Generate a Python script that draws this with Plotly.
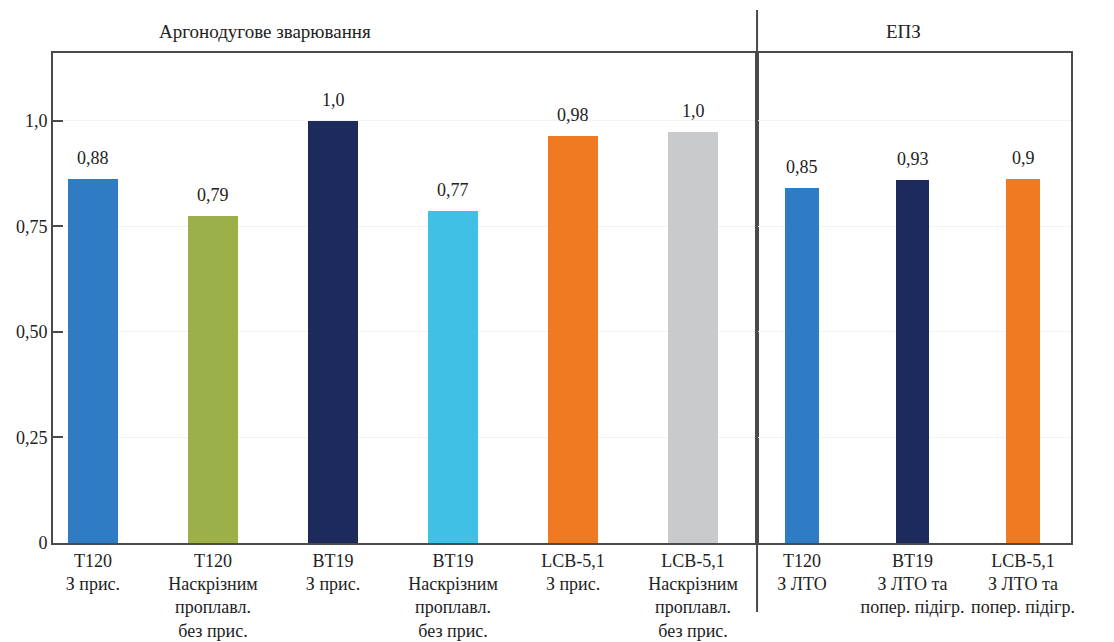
import plotly.graph_objects as go
from plotly.subplots import make_subplots

# ---- data ----
arc_categories = [
    "T120<br>З прис.",
    "T120<br>Наскрізним<br>проплавл.<br>без прис.",
    "BT19<br>З прис.",
    "BT19<br>Наскрізним<br>проплавл.<br>без прис.",
    "LCB-5,1<br>З прис.",
    "LCB-5,1<br>Наскрізним<br>проплавл.<br>без прис.",
]
arc_values = [0.862, 0.774, 0.999, 0.786, 0.963, 0.973]
arc_labels = ["0,88", "0,79", "1,0", "0,77", "0,98", "1,0"]
arc_colors = ["#2f7cc5", "#9cb04a", "#1c2b5b", "#40c0e4", "#f07a22", "#c9cacc"]

ebw_categories = [
    "T120<br>З ЛТО",
    "BT19<br>З ЛТО та<br>попер. підігр.",
    "LCB-5,1<br>З ЛТО та<br>попер. підігр.",
]
ebw_values = [0.840, 0.859, 0.862]
ebw_labels = ["0,85", "0,93", "0,9"]
ebw_colors = ["#2f7cc5", "#1c2b5b", "#f07a22"]

y_ticks = [0, 0.25, 0.5, 0.75, 1.0]
y_tick_text = ["0", "0,25", "0,50", "0,75", "1,0"]

group_titles = ["Аргонодугове зварювання", "ЕПЗ"]

FONT = "Liberation Serif"
LINE = "#4a4a4a"
TXT = "#222222"

fig = make_subplots(rows=1, cols=2, shared_yaxes=True, horizontal_spacing=0,
                    column_widths=[0.6916, 0.3084])

fig.add_trace(go.Bar(x=arc_categories, y=arc_values, marker_color=arc_colors,
                     marker_line_width=0, width=0.415, showlegend=False), row=1, col=1)
fig.add_trace(go.Bar(x=ebw_categories, y=ebw_values, marker_color=ebw_colors,
                     marker_line_width=0, width=0.30, showlegend=False), row=1, col=2)

annotations = []
for cat, v, t in zip(arc_categories, arc_values, arc_labels):
    annotations.append(dict(x=cat, y=v, xref="x", yref="y", text=t, showarrow=False,
                            yanchor="bottom", yshift=9,
                            font=dict(family=FONT, size=18, color=TXT)))
for cat, v, t in zip(ebw_categories, ebw_values, ebw_labels):
    annotations.append(dict(x=cat, y=v, xref="x2", yref="y", text=t, showarrow=False,
                            yanchor="bottom", yshift=9,
                            font=dict(family=FONT, size=18, color=TXT)))
annotations.append(dict(x=0.208, y=1.043, xref="paper", yref="paper", text=group_titles[0],
                        showarrow=False, yanchor="middle", xanchor="center",
                        font=dict(family=FONT, size=19, color=TXT)))
annotations.append(dict(x=0.835, y=1.043, xref="paper", yref="paper", text=group_titles[1],
                        showarrow=False, yanchor="middle", xanchor="center",
                        font=dict(family=FONT, size=19, color=TXT)))

fig.update_layout(
    width=1114, height=642,
    margin=dict(l=53, r=43, t=53, b=99, autoexpand=False),
    paper_bgcolor="white", plot_bgcolor="white",
    font=dict(family=FONT, size=18, color=TXT),
    annotations=annotations,
    bargap=0,
    shapes=[dict(type="line", xref="paper", yref="paper", x0=0.6916, x1=0.6916,
                 y0=-0.141, y1=1.088, line=dict(color=LINE, width=2))],
)

common_x = dict(showline=True, linecolor=LINE, linewidth=2, mirror=True, automargin=False,
                ticks="", showgrid=False, tickfont=dict(family=FONT, size=18, color=TXT))
fig.update_xaxes(range=[-0.333, 5.533], **common_x, row=1, col=1)
fig.update_xaxes(range=[-0.407, 2.434], **common_x, row=1, col=2)

fig.update_yaxes(range=[0, 1.16], tickvals=y_ticks, ticktext=y_tick_text, automargin=False,
                 showline=True, linecolor=LINE, linewidth=2, mirror=True,
                 ticks="inside", ticklen=10, tickcolor=LINE, tickwidth=2,
                 showgrid=True, gridcolor="#f1f3f4", gridwidth=1, zeroline=False,
                 tickfont=dict(family=FONT, size=18, color=TXT),
                 row=1, col=1)
fig.update_yaxes(range=[0, 1.16], tickvals=y_ticks, automargin=False,
                 showline=True, linecolor=LINE, linewidth=2, mirror=True,
                 ticks="", ticklen=0, showgrid=True, gridcolor="#f1f3f4", zeroline=False,
                 showticklabels=False, row=1, col=2)

fig.write_html("out.html")
